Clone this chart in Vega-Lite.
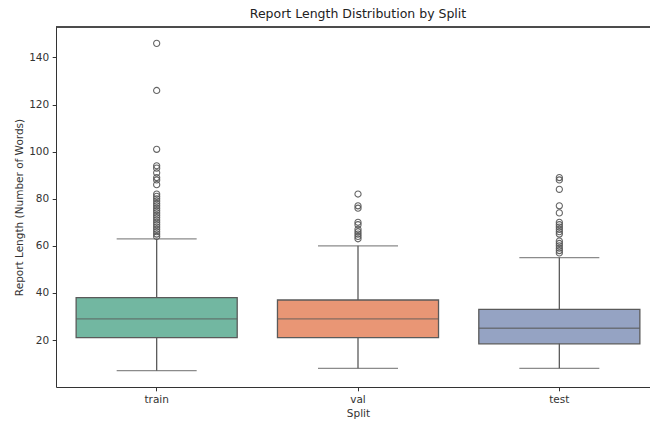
{
  "$schema": "https://vega.github.io/schema/vega-lite/v6.json",
  "width": 594,
  "height": 360,
  "autosize": {"type": "none"},
  "padding": {"left": 56, "top": 27, "right": 0, "bottom": 38},
  "background": "white",
  "title": {"text": "Report Length Distribution by Split", "font": "DejaVu Sans", "fontSize": 12.5, "fontWeight": "normal", "color": "#222", "anchor": "middle", "offset": 6, "dx": 5},
  "config": {
    "view": {"stroke": null},
    "axis": {"labelFont": "DejaVu Sans", "titleFont": "DejaVu Sans", "labelFontSize": 10.5, "titleFontSize": 10.5, "titleFontWeight": "normal", "labelColor": "#333", "titleColor": "#333", "domainColor": "#333", "tickColor": "#333", "domainWidth": 1, "tickWidth": 1, "tickSize": 3.8, "labelPadding": 3.5, "grid": false}
  },
  "datasets": {
    "boxes": [
      {"split": "train", "lower": 7, "q1": 21, "median": 29, "q3": 38, "upper": 63},
      {"split": "val", "lower": 8, "q1": 21, "median": 29, "q3": 37, "upper": 60},
      {"split": "test", "lower": 8, "q1": 18.4, "median": 25, "q3": 33, "upper": 55}
    ],
    "outliers": [
      {"split": "train", "value": 146}, {"split": "train", "value": 126}, {"split": "train", "value": 101},
      {"split": "train", "value": 94}, {"split": "train", "value": 93}, {"split": "train", "value": 91},
      {"split": "train", "value": 89}, {"split": "train", "value": 88}, {"split": "train", "value": 86},
      {"split": "train", "value": 82}, {"split": "train", "value": 81}, {"split": "train", "value": 80},
      {"split": "train", "value": 79}, {"split": "train", "value": 78}, {"split": "train", "value": 77},
      {"split": "train", "value": 76}, {"split": "train", "value": 75}, {"split": "train", "value": 74},
      {"split": "train", "value": 73}, {"split": "train", "value": 72}, {"split": "train", "value": 71},
      {"split": "train", "value": 70}, {"split": "train", "value": 69}, {"split": "train", "value": 68},
      {"split": "train", "value": 67}, {"split": "train", "value": 66}, {"split": "train", "value": 65},
      {"split": "train", "value": 64},
      {"split": "val", "value": 82}, {"split": "val", "value": 77}, {"split": "val", "value": 76},
      {"split": "val", "value": 70}, {"split": "val", "value": 69}, {"split": "val", "value": 67},
      {"split": "val", "value": 66}, {"split": "val", "value": 65}, {"split": "val", "value": 64},
      {"split": "val", "value": 63},
      {"split": "test", "value": 89}, {"split": "test", "value": 88}, {"split": "test", "value": 84},
      {"split": "test", "value": 77}, {"split": "test", "value": 74}, {"split": "test", "value": 70},
      {"split": "test", "value": 69}, {"split": "test", "value": 68}, {"split": "test", "value": 67},
      {"split": "test", "value": 66}, {"split": "test", "value": 65}, {"split": "test", "value": 62},
      {"split": "test", "value": 61}, {"split": "test", "value": 60}, {"split": "test", "value": 59},
      {"split": "test", "value": 58}, {"split": "test", "value": 57}
    ]
  },
  "encoding": {
    "x": {"field": "split", "type": "nominal", "sort": ["train", "val", "test"],
      "scale": {"domain": ["train", "val", "test"], "range": [0, 604], "paddingInner": 0, "paddingOuter": 0},
      "axis": {"title": "Split", "labelAngle": 0, "titlePadding": 4}}
  },
  "layer": [
    {
      "data": {"name": "boxes"},
      "mark": {"type": "rule", "color": "#5a5a5a", "strokeWidth": 1.3},
      "encoding": {
        "y": {"field": "lower", "type": "quantitative",
          "scale": {"domain": [0.05, 152.95], "nice": false, "zero": false},
          "axis": {"title": "Report Length (Number of Words)", "values": [20, 40, 60, 80, 100, 120, 140], "titlePadding": 4}},
        "y2": {"field": "upper"}
      }
    },
    {
      "data": {"name": "boxes"},
      "mark": {"type": "tick", "color": "#5a5a5a", "thickness": 1.3, "size": 80},
      "encoding": {"y": {"field": "lower", "type": "quantitative"}}
    },
    {
      "data": {"name": "boxes"},
      "mark": {"type": "tick", "color": "#5a5a5a", "thickness": 1.3, "size": 80},
      "encoding": {"y": {"field": "upper", "type": "quantitative"}}
    },
    {
      "data": {"name": "boxes"},
      "mark": {"type": "bar", "stroke": "#5a5a5a", "strokeWidth": 1.3, "width": {"band": 0.8}},
      "encoding": {
        "y": {"field": "q1", "type": "quantitative"},
        "y2": {"field": "q3"},
        "color": {"field": "split", "type": "nominal", "legend": null,
          "scale": {"domain": ["train", "val", "test"], "range": ["#72b7a1", "#e99675", "#95a3c3"]}}
      }
    },
    {
      "data": {"name": "boxes"},
      "mark": {"type": "tick", "color": "#5a5a5a", "thickness": 1.3, "size": 161},
      "encoding": {"y": {"field": "median", "type": "quantitative"}}
    },
    {
      "data": {"name": "outliers"},
      "mark": {"type": "point", "shape": "circle", "filled": false, "color": "#555", "strokeWidth": 1.1, "size": 38, "opacity": 0.9},
      "encoding": {"y": {"field": "value", "type": "quantitative"}}
    },
    {
      "data": {"name": "boxes"},
      "mark": {"type": "rule", "color": "#333", "strokeWidth": 1},
      "encoding": {"y": {"datum": 152.95, "type": "quantitative"}, "x": {"value": 0}, "x2": {"value": 604}}
    }
  ]
}
